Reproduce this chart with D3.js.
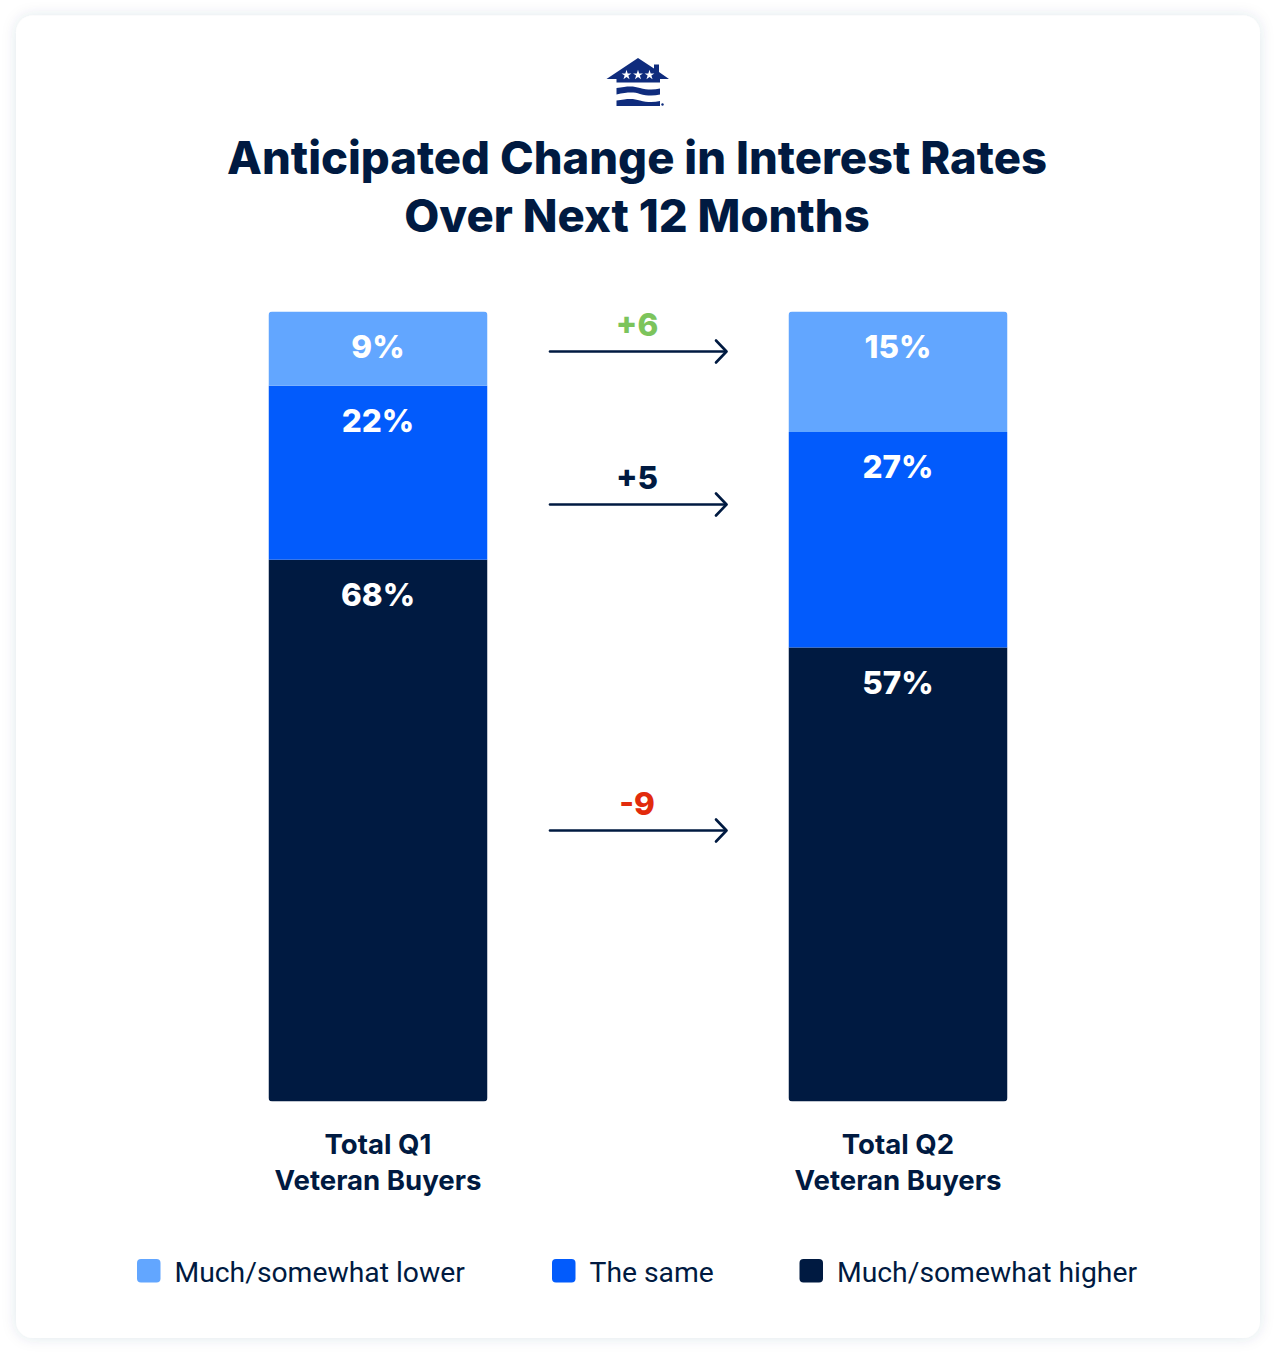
<!DOCTYPE html>
<html><head><meta charset="utf-8">
<script src="https://cdnjs.cloudflare.com/ajax/libs/d3/7.8.5/d3.min.js"></script>
<style>html,body{margin:0;padding:0;background:#fff}svg{display:block}</style></head>
<body><svg id="c" width="1276" height="1362"></svg>
<script>
const titleLines = ["Anticipated Change in Interest Rates","Over Next 12 Months"];
const categories = ["Total Q1|Veteran Buyers","Total Q2|Veteran Buyers"];
const seriesNames = ["Much/somewhat higher","The same","Much/somewhat lower"];
const higher = [67.9,56.9];
const same = [21.8,27.0];
const lower = [9.3,15.1];
const changes = [-9,5,6];
const changeLabels = ["-9","+5","+6"];
const legendOrder = ["Much/somewhat lower","The same","Much/somewhat higher"];
const colors = {"Much/somewhat higher":"#001A41","The same":"#025BFC","Much/somewhat lower":"#62A6FF"};
const changeColors = ["#E22B0C","#001A41","#7CC45C"];
const navy="#001A41", logoBlue="#0F2C7D";

const svg=d3.select("#c");
const defs=svg.append("defs");
const f=defs.append("filter").attr("id","sh").attr("x","-5%").attr("y","-5%").attr("width","110%").attr("height","110%");
f.append("feDropShadow").attr("dx",0).attr("dy",0).attr("stdDeviation",7).attr("flood-color","#3b4a6b").attr("flood-opacity",0.13);
svg.append("rect").attr("x",16).attr("y",15.5).attr("width",1244).attr("height",1322.5).attr("rx",17).attr("fill","#fff").attr("filter","url(#sh)");

// logo
const logo=svg.append("g").attr("fill",logoBlue);
logo.append("path").attr("d","M606.5 79 L638 58 L654 68.5 L654 64.5 L659 64.5 L659 72 L669 79 L660 79 L660 82.5 L616.5 82.5 L616.5 79 Z");
logo.selectAll("path.star").data([626.5,638,649.5]).join("path").attr("class","star")
 .attr("transform",d=>`translate(${d},75)`).attr("d",d3.symbol(d3.symbolStar,30)).attr("fill","#fff");
logo.append("path").attr("d","M616.5 88 C628 85.8 634 86 640 88 C647 90 654 90 660 88.5 L660 94.5 C654 96 647 96 640 94 C634 92 628 92 616.5 94.5 Z");
logo.append("path").attr("d","M616.5 100.5 C628 98.3 634 98.5 640 100.5 C647 102.5 654 102.5 660 101 L660 106 L616.5 106 Z");
logo.append("circle").attr("cx",662.5).attr("cy",104.5).attr("r",1.2);

// title
svg.append("g").selectAll("text").data(titleLines).join("text")
 .attr("x",637).attr("y",(d,i)=>174+i*58).attr("text-anchor","middle")
 .attr("font-family","Inter").attr("font-weight",800).attr("font-size",45.4).attr("fill",navy).text(d=>d);

// scales
const xCenter=d3.scalePoint().domain(categories).range([378,898]);
const barW=219;
const y=d3.scaleLinear().domain([0,99]).range([1101.5,311.5]);
const rows=categories.map((c,i)=>({cat:c,"Much/somewhat higher":higher[i],"The same":same[i],"Much/somewhat lower":lower[i]}));
const stacked=d3.stack().keys(seriesNames)(rows);

defs.selectAll("clipPath").data(categories).join("clipPath").attr("id",(d,i)=>"clip"+i)
 .append("rect").attr("x",d=>xCenter(d)-barW/2).attr("y",y(99)).attr("width",barW).attr("height",y(0)-y(99)).attr("rx",4);

const layers=svg.append("g").selectAll("g").data(stacked).join("g").attr("fill",d=>colors[d.key]);
layers.selectAll("rect").data(d=>d).join("rect")
 .attr("clip-path",(d,i)=>`url(#clip${i})`)
 .attr("x",d=>xCenter(d.data.cat)-barW/2).attr("width",barW)
 .attr("y",d=>y(d[1])).attr("height",d=>y(d[0])-y(d[1]));
layers.selectAll("text").data(d=>d.map(v=>({v,key:d.key}))).join("text")
 .attr("x",d=>xCenter(d.v.data.cat)).attr("y",d=>y(d.v[1])+46.5)
 .attr("text-anchor","middle").attr("fill","#fff").attr("font-family","Inter").attr("font-weight",800).attr("font-size",31.5)
 .text(d=>Math.round(d.v.data[d.key])+"%");

// category labels
const cats=svg.append("g").selectAll("g").data(categories).join("g");
cats.selectAll("text").data(d=>d.split("|").map(t=>({t,c:d}))).join("text")
 .attr("x",d=>xCenter(d.c)).attr("y",(d,i)=>1153.5+i*36)
 .attr("text-anchor","middle").attr("font-family","Inter").attr("font-weight",700).attr("font-size",27.6).attr("fill",navy).text(d=>d.t);

// change arrows
const arrowY=[830.5,504.5,351.5];
const ag=svg.append("g").selectAll("g").data(changes).join("g");
ag.append("line").attr("x1",550).attr("x2",726).attr("y1",(d,i)=>arrowY[i]).attr("y2",(d,i)=>arrowY[i]).attr("stroke",navy).attr("stroke-width",2.6).attr("stroke-linecap","round");
ag.append("path").attr("d",(d,i)=>`M716 ${arrowY[i]-11} L726.5 ${arrowY[i]} L716 ${arrowY[i]+11}`).attr("fill","none").attr("stroke",navy).attr("stroke-width",2.6).attr("stroke-linecap","round").attr("stroke-linejoin","round");
ag.append("text").attr("x",637).attr("y",(d,i)=>arrowY[i]-15.5).attr("text-anchor","middle")
 .attr("font-family","Inter").attr("font-weight",800).attr("font-size",31.5).attr("fill",(d,i)=>changeColors[i]).text((d,i)=>changeLabels[i]);

// legend
const legX=[137,552,799.5];
const lg=svg.append("g").selectAll("g").data(legendOrder).join("g").attr("transform",(d,i)=>`translate(${legX[i]},1259)`);
lg.append("rect").attr("width",23.5).attr("height",23.5).attr("rx",4).attr("fill",d=>colors[d]);
lg.append("text").attr("x",37.5).attr("y",23).attr("font-family","Roboto").attr("font-size",28.3).attr("fill",navy).text(d=>d);
</script></body></html>
